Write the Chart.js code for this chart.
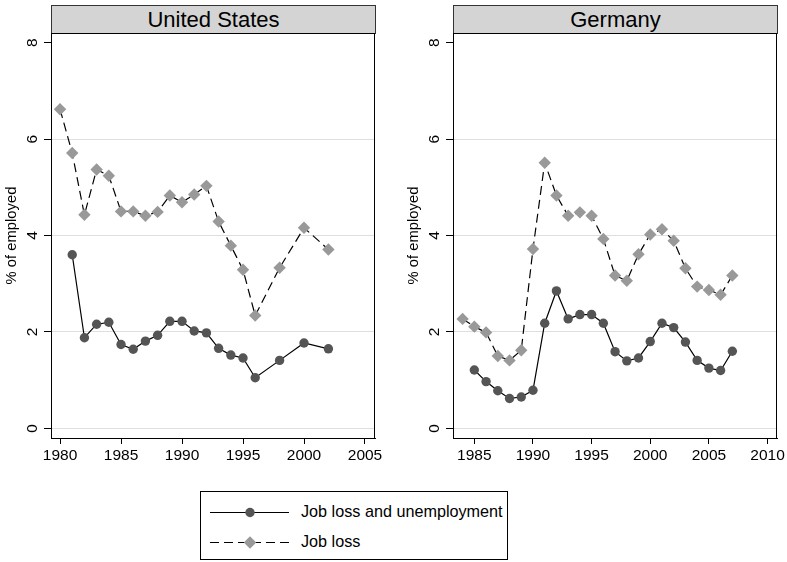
<!DOCTYPE html>
<html><head><meta charset="utf-8">
<script src="https://cdn.jsdelivr.net/npm/chart.js@4"></script>
<style>
body{margin:0;background:#fff;width:787px;height:562px;position:relative;overflow:hidden;font-family:"Liberation Sans",Arial,sans-serif;}
canvas{position:absolute;}
.strip{position:absolute;top:5px;height:29px;width:325px;background:#d4d4d4;border:1px solid #333;box-sizing:border-box;text-align:center;font-size:22px;line-height:27px;color:#000;}
.legend{position:absolute;left:200px;top:491px;width:308px;height:69px;border:1px solid #000;box-sizing:border-box;background:#fff;}
.legend svg{position:absolute;left:0;top:0;}
.legend span{position:absolute;left:100px;font-size:16.2px;line-height:19px;color:#000;white-space:nowrap;}
</style></head><body>
<div class="strip" style="left:51px">United States</div>
<div class="strip" style="left:453px">Germany</div>
<canvas id="us" width="393" height="466" style="left:0;top:0"></canvas>
<canvas id="de" width="385" height="466" style="left:402px;top:0"></canvas>
<div class="legend">
<svg width="308" height="69">
<line x1="9" y1="20.5" x2="88" y2="20.5" stroke="#000" stroke-width="1.2"/>
<circle cx="49" cy="20.5" r="4.7" fill="#555"/>
<line x1="9" y1="50.5" x2="88" y2="50.5" stroke="#000" stroke-width="1.2" stroke-dasharray="9,5"/>
<polygon points="49,44.3 55.2,50.5 49,56.7 42.8,50.5" fill="#999"/>
</svg>
<span style="top:10px">Job loss and unemployment</span>
<span style="top:40px">Job loss</span>
</div>
<script>
const FONT = "'Liberation Sans', Arial, sans-serif";
const seriesNames = ["Job loss and unemployment", "Job loss"];
const yTicks = [0, 2, 4, 6, 8];
const usXTicks = [1980, 1985, 1990, 1995, 2000, 2005];
const deXTicks = [1985, 1990, 1995, 2000, 2005, 2010];

const usYearsJLU = [1981,1982,1983,1984,1985,1986,1987,1988,1989,1990,1991,1992,1993,1994,1995,1996,1998,2000,2002];
const usJLU = [3.60,1.88,2.16,2.20,1.74,1.64,1.81,1.93,2.22,2.22,2.02,1.98,1.66,1.52,1.46,1.05,1.41,1.77,1.65];
const usYearsJL = [1980,1981,1982,1983,1984,1985,1986,1987,1988,1989,1990,1991,1992,1993,1994,1995,1996,1998,2000,2002];
const usJL = [6.62,5.71,4.43,5.37,5.24,4.50,4.50,4.41,4.49,4.83,4.69,4.85,5.03,4.29,3.79,3.29,2.34,3.33,4.16,3.71];

const deYearsJLU = [1985,1986,1987,1988,1989,1990,1991,1992,1993,1994,1995,1996,1997,1998,1999,2000,2001,2002,2003,2004,2005,2006,2007];
const deJLU = [1.21,0.97,0.78,0.62,0.65,0.79,2.18,2.85,2.27,2.36,2.36,2.18,1.59,1.40,1.46,1.80,2.18,2.09,1.79,1.41,1.25,1.20,1.60];
const deYearsJL = [1984,1985,1986,1987,1988,1989,1990,1991,1992,1993,1994,1995,1996,1997,1998,1999,2000,2001,2002,2003,2004,2005,2006,2007];
const deJL = [2.27,2.11,1.99,1.50,1.41,1.62,3.72,5.51,4.83,4.41,4.48,4.41,3.93,3.17,3.06,3.61,4.02,4.13,3.89,3.32,2.94,2.87,2.77,3.17];

const boxPlugin = {
  id: 'box',
  afterDraw(chart) {
    const a = chart.chartArea, c = chart.ctx;
    c.save(); c.strokeStyle = '#000'; c.lineWidth = 1;
    c.strokeRect(Math.round(a.left) + 0.5, Math.round(a.top) + 0.5, Math.round(a.right - a.left) - 1, Math.round(a.bottom - a.top));
    c.restore();
  }
};

function pts(xs, ys) { return xs.map((x, i) => ({x: x, y: ys[i]})); }

function panel(id, xsA, ysA, xsB, ysB, xmin, xmax, xticks, rightPad) {
  new Chart(document.getElementById(id), {
    type: 'line',
    data: {
      datasets: [
        {label: seriesNames[0], data: pts(xsA, ysA), borderColor: '#000', borderWidth: 1.2,
         pointStyle: 'circle', pointRadius: 4.7, pointBackgroundColor: '#555', pointBorderColor: '#555', pointBorderWidth: 0, tension: 0},
        {label: seriesNames[1], data: pts(xsB, ysB), borderColor: '#000', borderWidth: 1.2, borderDash: [9, 5],
         pointStyle: 'rectRot', pointRadius: 6.2, pointBackgroundColor: '#999', pointBorderColor: '#999', pointBorderWidth: 0, tension: 0}
      ]
    },
    options: {
      responsive: false, animation: false, devicePixelRatio: 1,
      layout: {padding: {top: 33, right: rightPad, left: 0, bottom: 0}},
      plugins: {legend: {display: false}, tooltip: {enabled: false}},
      scales: {
        x: {
          type: 'linear', min: xmin, max: xmax,
          afterBuildTicks: s => { s.ticks = xticks.map(v => ({value: v})); },
          afterFit: s => { s.height = 28; },
          grid: {drawOnChartArea: false, drawTicks: true, tickLength: 6, color: '#000', tickColor: '#000'},
          border: {display: true, color: '#000'},
          ticks: {font: {size: 15.5, family: FONT}, color: '#000', padding: 2, minRotation: 0, maxRotation: 0, autoSkip: false, callback: v => String(v)}
        },
        y: {
          type: 'linear', min: -0.2, max: 8.2,
          afterBuildTicks: s => { s.ticks = yTicks.map(v => ({value: v})); },
          afterFit: s => { s.width = 51; },
          grid: {color: c => (c.tick && c.tick.value === 8) ? 'rgba(0,0,0,0)' : '#dedede', tickColor: '#000', tickLength: 7, lineWidth: 1},
          border: {display: true, color: '#000'},
          ticks: {minRotation: 90, maxRotation: 90, crossAlign: 'center', padding: 7, font: {size: 15.5, family: FONT}, color: '#000', callback: v => String(v)},
          title: {display: true, text: '% of employed', font: {size: 14.8, family: FONT}, color: '#000', padding: {top: 3, bottom: 0}}
        }
      }
    },
    plugins: [boxPlugin]
  });
}

panel('us', usYearsJLU, usJLU, usYearsJL, usJL, 1979.26, 2005.82, usXTicks, 18);
panel('de', deYearsJLU, deJLU, deYearsJL, deJL, 1983.18, 2010.85, deXTicks, 8);
</script>
</body></html>
